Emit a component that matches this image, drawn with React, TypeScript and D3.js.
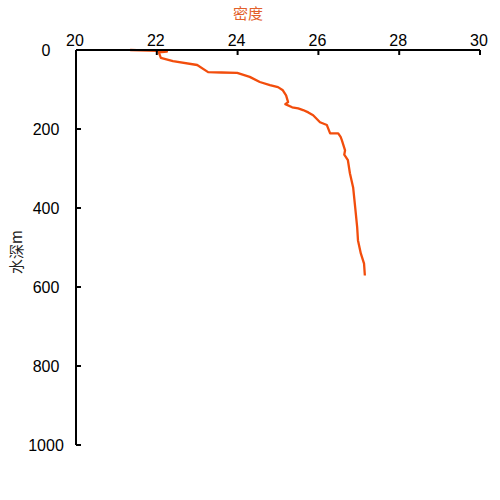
import React from "react";
import * as d3 from "d3";

const density: number[] = [
  21.34, 22.03, 22.25, 22.05, 22.1, 22.4, 23.0, 23.27, 23.6, 23.99, 24.3, 24.55, 24.8, 25.0,
  25.12, 25.2, 25.25, 25.18, 25.35, 25.5, 25.62, 25.75, 25.87, 26.04, 26.21, 26.29,
  26.49, 26.55, 26.58, 26.66, 26.64, 26.73, 26.78, 26.86, 26.91, 26.96, 26.98, 27.05,
  27.13, 27.15,
];
const depth: number[] = [
  0, 2, 4, 6, 20, 28, 38, 56, 57, 58, 68, 81, 89, 94,
  102, 115, 132, 137, 145, 148, 152, 158, 165, 183, 190, 211,
  211, 220, 228, 254, 265, 279, 312, 348, 398, 449, 482, 515,
  541, 571,
];
const xTicks: number[] = [20, 22, 24, 26, 28, 30];
const yTicks: number[] = [0, 200, 400, 600, 800, 1000];

const xTitle = "密度";
const yTitle = "水深m";

export default function App() {
  const W = 500;
  const H = 500;
  const left = 76;
  const right = 480;
  const top = 50;
  const bottom = 445;

  const x = d3.scaleLinear().domain([20, 30]).range([left, right]);
  const y = d3.scaleLinear().domain([0, 1000]).range([top, bottom]);

  const pts: [number, number][] = density.map((d, i) => [d, depth[i]]);
  const line = d3
    .line<[number, number]>()
    .x((d) => x(d[0]))
    .y((d) => y(d[1]));

  const font = "'Liberation Sans', Arial, sans-serif";
  const cjk = "'Noto Sans CJK SC', 'Noto Sans', sans-serif";

  return (
    <svg
      width={W}
      height={H}
      style={{ position: "absolute", left: 0, top: 0, background: "#fff" }}
    >
      <path d={line(pts) || ""} fill="none" stroke="#F24D0C" strokeWidth={2.3} strokeLinejoin="round" />

      <line x1={left} x2={right} y1={top} y2={top} stroke="#000" strokeWidth={2} />
      {xTicks.map((t) => (
        <g key={"x" + t}>
          <line x1={x(t)} x2={x(t)} y1={top} y2={top + 5} stroke="#000" strokeWidth={2} />
          <text
            x={x(t) - 1}
            y={top - 4}
            textAnchor="middle"
            fontFamily={font}
            fontSize={16}
            fill="#000"
          >
            {t}
          </text>
        </g>
      ))}

      <line x1={left} x2={left} y1={top} y2={bottom} stroke="#000" strokeWidth={2} />
      {yTicks.map((t) => (
        <g key={"y" + t}>
          <line x1={left} x2={left + 5} y1={y(t)} y2={y(t)} stroke="#000" strokeWidth={2} />
          <text
            x={46}
            y={y(t)}
            dy="0.36em"
            textAnchor="middle"
            fontFamily={font}
            fontSize={16}
            fill="#000"
          >
            {t}
          </text>
        </g>
      ))}

      <text
        x={248}
        y={19}
        textAnchor="middle"
        fontFamily={cjk}
        fontSize={15}
        fill="#E2602A"
      >
        {xTitle}
      </text>
      <text
        transform={`translate(22, 252) rotate(-90)`}
        textAnchor="middle"
        fontFamily={cjk}
        fontSize={15}
        fill="#222"
      >
        {yTitle}
      </text>
    </svg>
  );
}
